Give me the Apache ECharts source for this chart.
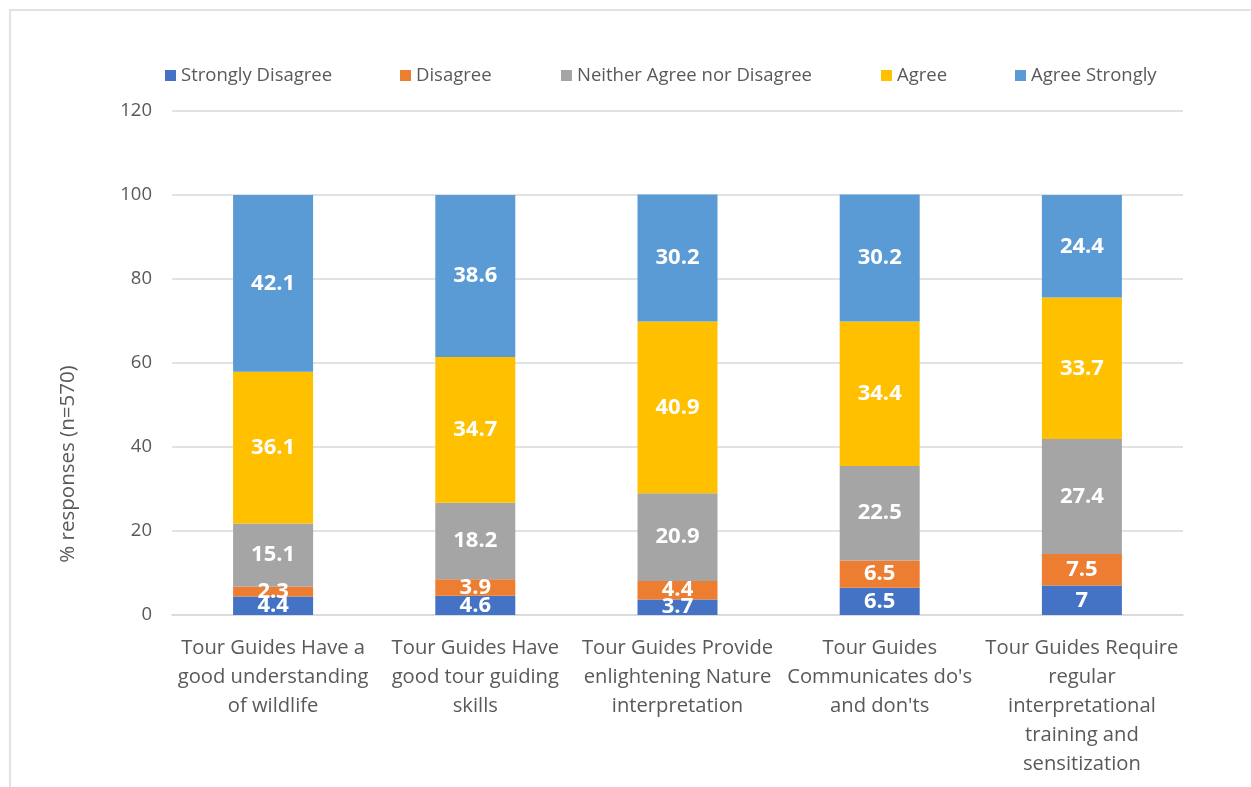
<!DOCTYPE html>
<html>
<head>
<meta charset="utf-8">
<script src="https://cdn.jsdelivr.net/npm/echarts@6/dist/echarts.min.js"></script>
<style>
  html, body { margin: 0; padding: 0; background: #fff; }
  #chart { width: 1251px; height: 787px; }
</style>
</head>
<body>
<div id="chart"></div>
<script>
// Survey statements (x-axis categories, wrapped as shown)
const categories = [
  'Tour Guides Have a\ngood understanding\nof wildlife',
  'Tour Guides Have\ngood tour guiding\nskills',
  'Tour Guides Provide\nenlightening Nature\ninterpretation',
  'Tour Guides\nCommunicates do\'s\nand don\'ts',
  'Tour Guides Require\nregular\ninterpretational\ntraining and\nsensitization'
];

// Percentage of responses per level of agreement
const stronglyDisagree = [4.4, 4.6, 3.7, 6.5, 7];
const disagree = [2.3, 3.9, 4.4, 6.5, 7.5];
const neither = [15.1, 18.2, 20.9, 22.5, 27.4];
const agree = [36.1, 34.7, 40.9, 34.4, 33.7];
const agreeStrongly = [42.1, 38.6, 30.2, 30.2, 24.4];

const seriesNames = ['Strongly Disagree', 'Disagree', 'Neither Agree nor Disagree', 'Agree', 'Agree Strongly'];
const seriesData = [stronglyDisagree, disagree, neither, agree, agreeStrongly];
const colors = ['#4472C4', '#ED7D31', '#A5A5A5', '#FFC000', '#5B9BD5'];
const legendLeft = [160, 395, 556, 876, 1010];

const font = '"Open Sans", sans-serif';

const chart = echarts.init(document.getElementById('chart'), null, { renderer: 'canvas' });

chart.setOption({
  animation: false,
  textStyle: { fontFamily: font },
  graphic: [
    {
      type: 'rect',
      shape: { x: 10, y: 10, width: 1400, height: 1000 },
      style: { fill: 'none', stroke: '#D9D9D9', lineWidth: 1.5 },
      silent: true
    },
    {
      type: 'text',
      x: 68, y: 464,
      rotation: Math.PI / 2,
      style: {
        text: '% responses (n=570)',
        fill: '#595959',
        font: '20.5px ' + font,
        align: 'center',
        verticalAlign: 'middle'
      }
    }
  ],
  legend: seriesNames.map((n, i) => ({
    data: [n],
    left: legendLeft[i],
    top: 61,
    itemWidth: 11,
    itemHeight: 11,
    itemGap: 6,
    icon: 'rect',
    textStyle: { color: '#595959', fontSize: 18.5, fontFamily: font },
    selectedMode: false
  })),
  grid: { left: 172, right: 68, top: 111, bottom: 172 },
  xAxis: {
    type: 'category',
    data: categories,
    axisTick: { show: false },
    axisLine: { lineStyle: { color: '#D9D9D9', width: 1.5 } },
    axisLabel: {
      color: '#595959', fontSize: 20.2, fontFamily: font,
      lineHeight: 29, margin: 19, interval: 0
    }
  },
  yAxis: {
    type: 'value',
    min: 0, max: 120, interval: 20,
    axisLine: { show: false },
    axisTick: { show: false },
    splitLine: { lineStyle: { color: '#D9D9D9', width: 1.5 } },
    axisLabel: { color: '#595959', fontSize: 18.5, fontFamily: font, margin: 20 }
  },
  series: seriesNames.map((n, i) => ({
    name: n,
    type: 'bar',
    stack: 'total',
    barWidth: 80,
    data: seriesData[i],
    itemStyle: { color: colors[i] },
    label: {
      show: true,
      position: 'inside',
      color: '#fff',
      fontWeight: 'bold',
      fontSize: 22,
      fontFamily: font
    }
  }))
});
</script>
</body>
</html>
